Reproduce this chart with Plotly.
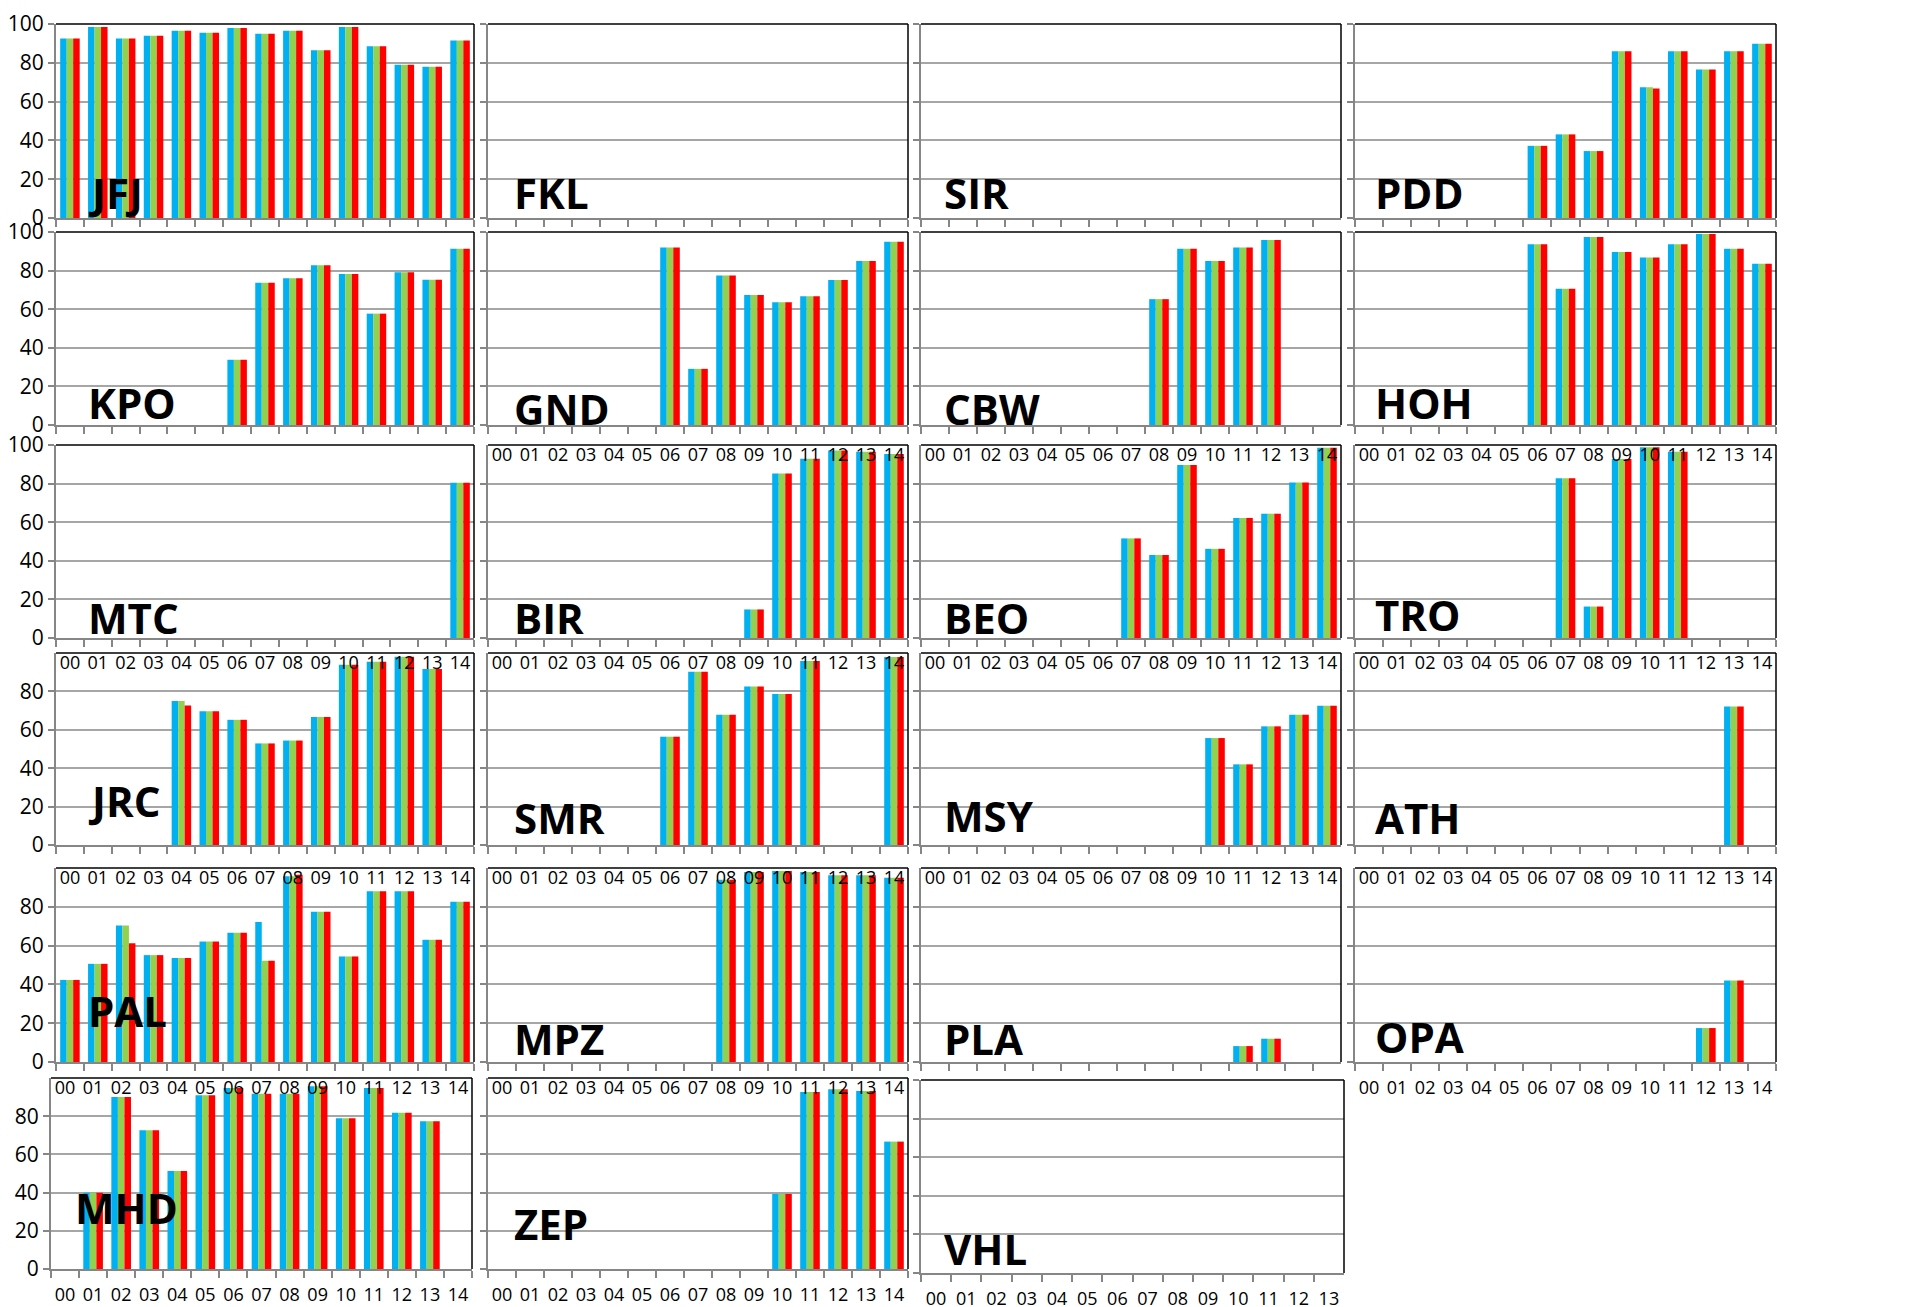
import plotly.graph_objects as go

YEARS = ["00", "01", "02", "03", "04", "05", "06", "07", "08", "09", "10", "11", "12", "13", "14"]
YEARS_VHL = ["00", "01", "02", "03", "04", "05", "06", "07", "08", "09", "10", "11", "12", "13"]
N = None

# values per station, one list per series only where the three differ
JFJ = [92.5, 98.5, 92.5, 94, 96.5, 95.5, 98, 95, 96.5, 86.5, 98.5, 88.5, 79, 78, 91.5]
FKL = [N, N, N, N, N, N, N, N, N, N, N, N, N, N, N]
SIR = [N, N, N, N, N, N, N, N, N, N, N, N, N, N, N]
PDD = [N, N, N, N, N, N, 37.2, 43.1, 34.5, 85.9, 67.4, 85.9, 76.6, 85.9, 89.8]
PDD_RED = [N, N, N, N, N, N, 37.2, 43.1, 34.5, 85.9, 66.7, 85.9, 76.6, 85.9, 89.8]
KPO = [N, N, N, N, N, N, 33.8, 73.7, 76, 82.8, 78.2, 57.7, 79.1, 75.3, 91.3]
GND = [N, N, N, N, N, N, 92, 29.1, 77.4, 67.4, 63.6, 66.7, 75.1, 85, 95]
CBW = [N, N, N, N, N, N, N, N, 65.2, 91.3, 85, 92, 95.8, N, N]
HOH = [N, N, N, N, N, N, 93.6, 70.6, 97.4, 89.7, 86.8, 93.6, 99, 91.3, 83.5]
MTC = [N, N, N, N, N, N, N, N, N, N, N, N, N, N, 80.5]
BIR = [N, N, N, N, N, N, N, N, N, 14.8, 85.2, 92.9, 97.2, 96.5, 95.3]
BEO = [N, N, N, N, N, N, N, 51.6, 43, 89.6, 46.2, 62.2, 64.4, 80.6, 98.6]
TRO = [N, N, N, N, N, N, N, 82.8, 16.3, 92.7, 98.8, 96.5, N, N, N]
JRC = [N, N, N, N, 75, 69.7, 65.2, 52.9, 54.4, 66.7, 93.9, 95.5, 98.1, 91.7, N]
JRC_RED = [N, N, N, N, 72.6, 69.7, 65.2, 52.9, 54.4, 66.7, 93.9, 95.5, 98.1, 91.7, N]
SMR = [N, N, N, N, N, N, 56.4, 90.2, 67.9, 82.6, 78.7, 95.8, N, N, 97.9]
MSY = [N, N, N, N, N, N, N, N, N, N, 55.7, 42, 61.8, 67.9, 72.5]
ATH = [N, N, N, N, N, N, N, N, N, N, N, N, N, 72.1, N]
PAL = [42.3, 50.6, 70.4, 55.1, 53.6, 62.1, 66.6, 72.2, 95.7, 77.4, 54.4, 88, 88, 63, 82.6]
PAL_GREEN = [42.3, 50.6, 70.4, 55.1, 53.6, 62.1, 66.6, 52.2, 95.7, 77.4, 54.4, 88, 88, 63, 82.6]
PAL_RED = [42.3, 50.6, 61.2, 55.1, 53.6, 62.1, 66.6, 52.2, 96.5, 77.4, 54.4, 88, 88, 63, 82.6]
MPZ = [N, N, N, N, N, N, N, N, 94, 98, 98.5, 98, 96.3, 96.3, 95]
PLA = [N, N, N, N, N, N, N, N, N, N, N, 8.2, 12, N, N]
OPA = [N, N, N, N, N, N, N, N, N, N, N, N, 17.5, 42, N]
MHD = [N, 39.9, 90.1, 72.6, 51.3, 91, 94.8, 91.7, 91.7, 95.7, 78.9, 94.8, 81.8, 77.3, N]
ZEP = [N, N, N, N, N, N, N, N, N, N, 39.3, 92.7, 94.1, 93.2, 66.7]
VHL = [N, N, N, N, N, N, N, N, N, N, N, N, N, N]

# (name, blue, green, red, categories)
PANELS = [
    ("JFJ", JFJ, JFJ, JFJ, YEARS), ("FKL", FKL, FKL, FKL, YEARS),
    ("SIR", SIR, SIR, SIR, YEARS), ("PDD", PDD, PDD, PDD_RED, YEARS),
    ("KPO", KPO, KPO, KPO, YEARS), ("GND", GND, GND, GND, YEARS),
    ("CBW", CBW, CBW, CBW, YEARS), ("HOH", HOH, HOH, HOH, YEARS),
    ("MTC", MTC, MTC, MTC, YEARS), ("BIR", BIR, BIR, BIR, YEARS),
    ("BEO", BEO, BEO, BEO, YEARS), ("TRO", TRO, TRO, TRO, YEARS),
    ("JRC", JRC, JRC, JRC_RED, YEARS), ("SMR", SMR, SMR, SMR, YEARS),
    ("MSY", MSY, MSY, MSY, YEARS), ("ATH", ATH, ATH, ATH, YEARS),
    ("PAL", PAL, PAL_GREEN, PAL_RED, YEARS), ("MPZ", MPZ, MPZ, MPZ, YEARS),
    ("PLA", PLA, PLA, PLA, YEARS), ("OPA", OPA, OPA, OPA, YEARS),
    ("MHD", MHD, MHD, MHD, YEARS), ("ZEP", ZEP, ZEP, ZEP, YEARS),
    ("VHL", VHL, VHL, VHL, YEARS_VHL),
]

COLORS = ["#00B0F0", "#92D050", "#FF0000"]
W, H = 1917, 1307
# panel pixel boxes (page body adds an 8px margin)
COLS = [(48, 466), (480, 900), (913, 1333), (1347, 1768)]
ROWS = [(16, 210), (224, 417), (437, 630), (645, 837), (860, 1054), (1070, 1261)]
NAME_DX = [30, 24, 21, 18]
# how far each station label's baseline sits above the panel bottom
NAME_LIFT = [7, 7, 7, 7, 4, -2, -2, 4, 2, 2, 2, 5, 26, 9, 11, 9, 33, 5, 5, 7, 43, 27, 6]
TOP_LABELS = {"BIR", "BEO", "TRO", "JRC", "SMR", "MSY", "ATH", "PAL", "MPZ", "PLA", "OPA", "MHD", "ZEP"}
BOTTOM_LABELS = {"OPA", "MHD", "ZEP", "VHL"}

GRID = "#A6A6A6"
AXIS = "#868686"

fig = go.Figure()
layout = {}
annotations = []
shapes = []

for i, (name, blue, green, red, cats) in enumerate(PANELS):
    k = i + 1
    r, c = divmod(i, 4)
    x0, x1 = COLS[c]
    y0, y1 = ROWS[r]
    if name == "MHD":
        x0, x1 = 43, 464
    if name == "VHL":
        x0, x1, y0, y1 = 913, 1336, 1072, 1265
    xa = "x" if k == 1 else f"x{k}"
    ya = "y" if k == 1 else f"y{k}"
    xkey = "xaxis" if k == 1 else f"xaxis{k}"
    ykey = "yaxis" if k == 1 else f"yaxis{k}"

    for vals, col in zip((blue, green, red), COLORS):
        fig.add_trace(go.Bar(x=cats, y=vals, marker_color=col, marker_line_width=0,
                             xaxis=xa, yaxis=ya, showlegend=False))

    n = len(cats)
    layout[xkey] = dict(
        domain=[x0 / W, x1 / W], anchor=ya, type="category", automargin=False,
        categoryorder="array", categoryarray=cats, range=[-0.5, n - 0.5],
        showgrid=False, zeroline=False, showline=True, linecolor=AXIS, linewidth=2,
        ticks="outside", ticklen=7, tickcolor=AXIS, tickwidth=1.5, tickson="boundaries",
        showticklabels=name in BOTTOM_LABELS, tickangle=0, ticklabelstandoff=8,
        tickfont=dict(size=18, color="black"),
    )
    layout[ykey] = dict(
        domain=[1 - y1 / H, 1 - y0 / H], anchor=xa, range=[0, 100], dtick=20,
        automargin=False, showgrid=True, gridcolor=GRID, gridwidth=2, zeroline=False,
        showline=True, linecolor=AXIS, linewidth=2,
        ticks="outside", ticklen=6, tickcolor=AXIS, tickwidth=1.5,
        showticklabels=(c == 0), tickfont=dict(size=21, color="black"),
    )

    if name in TOP_LABELS:
        tk = k + 30
        layout[f"xaxis{tk}"] = dict(
            overlaying=xa, anchor=ya, side="top", range=[-0.5, n - 0.5],
            automargin=False, tickangle=0,
            tickvals=list(range(n)), ticktext=cats, ticklabelposition="inside",
            ticks="", showgrid=False, showline=False, zeroline=False,
            tickfont=dict(size=18, color="black"),
        )
        fig.add_trace(go.Scatter(x=[], y=[], xaxis=f"x{tk}", yaxis=ya,
                                 showlegend=False, hoverinfo="skip"))

    # black top and right border
    shapes.append(dict(type="line", xref="paper", yref="paper", x0=x0 / W, x1=x1 / W,
                       y0=1 - y0 / H, y1=1 - y0 / H, line=dict(color="black", width=1.5)))
    shapes.append(dict(type="line", xref="paper", yref="paper", x0=x1 / W, x1=x1 / W,
                       y0=1 - y0 / H, y1=1 - y1 / H, line=dict(color="black", width=1.5)))

    dx = 22 if name == "MHD" else NAME_DX[c]
    base = y1 - NAME_LIFT[i]
    annotations.append(dict(
        text=name, xref="paper", yref="paper", x=(x0 + dx) / W, y=1 - (base + 12) / H,
        xanchor="left", yanchor="bottom", showarrow=False,
        font=dict(family="Open Sans", size=42, color="black", weight=700),
    ))

fig.update_layout(
    width=W, height=H, margin=dict(l=0, r=0, t=0, b=0),
    paper_bgcolor="white", plot_bgcolor="white",
    barmode="group", bargap=0.3, bargroupgap=0,
    font=dict(family="Open Sans", color="black"),
    annotations=annotations, shapes=shapes, **layout,
)

fig.write_html("out.html")
